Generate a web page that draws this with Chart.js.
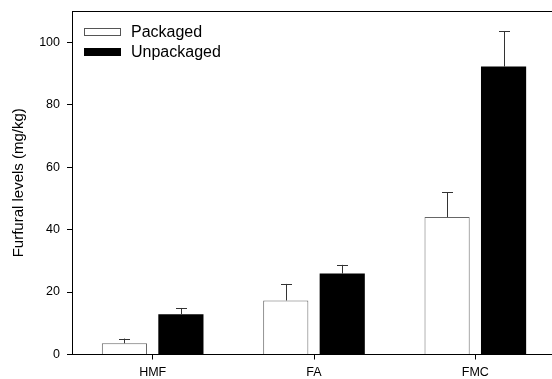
<!DOCTYPE html>
<html>
<head>
<meta charset="utf-8">
<script src="https://cdn.jsdelivr.net/npm/chart.js@4"></script>
<style>
  html, body { margin: 0; padding: 0; background: #fff; overflow: hidden; }
  #wrap { width: 556px; height: 379px; }
</style>
</head>
<body>
<div id="wrap"><canvas id="furfuralChart"></canvas></div>
<script>
/* data */
const categories = ["HMF", "FA", "FMC"];
const packaged = [3.6, 17.3, 44.0];
const unpackaged = [12.9, 25.9, 92.2];
const packagedSd = [1.5, 5.3, 8.0];
const unpackagedSd = [2.0, 2.8, 11.4];
const yTicks = [0, 20, 40, 60, 80, 100];

const FONT = "'Liberation Sans', Arial, Helvetica, sans-serif";

/* upward-only error bars with a small cap */
const errorBars = {
  id: "errorBars",
  afterDatasetsDraw(chart) {
    const ctx = chart.ctx;
    const y = chart.scales.y;
    ctx.save();
    ctx.strokeStyle = "#333";
    ctx.lineWidth = 1;
    chart.data.datasets.forEach((ds, i) => {
      const meta = chart.getDatasetMeta(i);
      meta.data.forEach((bar, j) => {
        const top = y.getPixelForValue(ds.data[j]);
        const end = y.getPixelForValue(ds.data[j] + ds.sd[j]);
        const x = Math.round(bar.x) + 0.5;
        ctx.beginPath();
        ctx.moveTo(x, top);
        ctx.lineTo(x, end);
        ctx.moveTo(x - 5.5, Math.round(end) + 0.5);
        ctx.lineTo(x + 5.5, Math.round(end) + 0.5);
        ctx.stroke();
      });
    });
    ctx.restore();
  }
};

/* top frame line + legend inside the plot */
const frameLegend = {
  id: "frameLegend",
  afterDraw(chart) {
    const ctx = chart.ctx;
    const a = chart.chartArea;
    ctx.save();
    ctx.strokeStyle = "#000";
    ctx.lineWidth = 1;
    ctx.beginPath();
    ctx.moveTo(a.left, Math.round(a.top) + 0.5);
    ctx.lineTo(a.right, Math.round(a.top) + 0.5);
    ctx.stroke();

    const items = [
      { label: "Packaged", fill: "#fff", stroke: "#555" },
      { label: "Unpackaged", fill: "#000", stroke: "#000" }
    ];
    ctx.font = "16px " + FONT;
    ctx.textBaseline = "middle";
    items.forEach((it, k) => {
      const by = 28 + k * 20;
      ctx.fillStyle = it.fill;
      ctx.fillRect(84, by, 37, 8);
      ctx.strokeStyle = it.stroke;
      ctx.strokeRect(84.5, by + 0.5, 36, 7);
      ctx.fillStyle = "#000";
      ctx.fillText(it.label, 131, by + 5);
    });
    ctx.restore();
  }
};

new Chart(document.getElementById("furfuralChart"), {
  type: "bar",
  data: {
    labels: categories,
    datasets: [
      {
        label: "Packaged",
        data: packaged,
        sd: packagedSd,
        backgroundColor: "#fff",
        borderColor: "#666",
        borderWidth: 1,
        categoryPercentage: 0.70,
        barPercentage: 0.80
      },
      {
        label: "Unpackaged",
        data: unpackaged,
        sd: unpackagedSd,
        backgroundColor: "#000",
        borderWidth: 0,
        categoryPercentage: 0.70,
        barPercentage: 0.80
      }
    ]
  },
  options: {
    responsive: true,
    maintainAspectRatio: false,
    animation: false,
    layout: { padding: { top: 11, right: 0, left: 0, bottom: 0 } },
    plugins: {
      legend: { display: false },
      tooltip: { enabled: false }
    },
    scales: {
      x: {
        offset: true,
        grid: { offset: false, drawOnChartArea: false, drawTicks: true, tickLength: 5, color: "#000" },
        border: { display: true, color: "#000", width: 1 },
        ticks: { color: "#000", font: { family: FONT, size: 12.5 }, padding: 6 },
        afterFit(s) { s.height = 24.5; s.paddingLeft = 0; s.paddingRight = 0; }
      },
      y: {
        min: 0,
        max: 110,
        afterBuildTicks(s) { s.ticks = yTicks.map(v => ({ value: v })); },
        grid: { drawOnChartArea: false, drawTicks: true, tickLength: 5, color: "#000" },
        border: { display: true, color: "#000", width: 1 },
        ticks: { color: "#000", font: { family: FONT, size: 12.5 }, padding: 7 },
        title: {
          display: true,
          text: "Furfural levels (mg/kg)",
          color: "#000",
          font: { family: FONT, size: 15 },
          padding: { top: 9.5, bottom: 0 }
        },
        afterFit(s) { s.width = 72; s.paddingTop = 0; s.paddingBottom = 0; }
      }
    }
  },
  plugins: [errorBars, frameLegend]
});
</script>
</body>
</html>
